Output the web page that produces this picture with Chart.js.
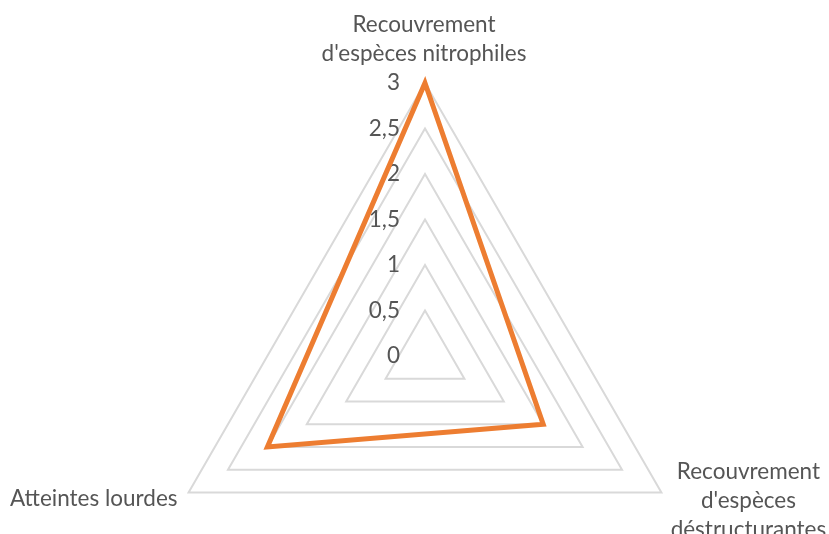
<!DOCTYPE html>
<html>
<head>
<meta charset="utf-8">
<script src="https://cdn.jsdelivr.net/npm/chart.js@4.4.0/dist/chart.umd.min.js"></script>
<style>
  html, body { margin: 0; padding: 0; background: #fff; overflow: hidden; }
  #radar { display: block; }
</style>
</head>
<body>
<canvas id="radar" width="829" height="640"></canvas>
<script>
// DATOS
const categories = [
  ["Recouvrement", "d'espèces nitrophiles"],
  ["Recouvrement", "d'espèces", "déstructurantes"],
  ["Atteintes lourdes"]
];
const valeurs = [3, 1.5, 2];
const tickValues = [0, 0.5, 1, 1.5, 2, 2.5, 3];
const tickLabels = ["0", "0,5", "1", "1,5", "2", "2,5", "3"];
// DATOS END

// placement of the axis titles around each corner (dx, dy of first baseline)
const placement = [
  { align: "center", dx: -1, dy: -51 },
  { align: "center", dx: 87, dy: -14 },
  { align: "right", dx: -11, dy: 13 }
];
const police = "22.5px Lato";
const gris = "#555555";
const interligne = 29;

// tick labels, drawn under the line like excel does
const graduations = {
  id: "graduations",
  beforeDatasetsDraw(chart) {
    const ctx = chart.ctx;
    const r = chart.scales.r;
    ctx.save();
    ctx.font = police;
    ctx.fillStyle = gris;
    ctx.textAlign = "right";
    ctx.textBaseline = "middle";
    tickValues.forEach((v, i) => {
      const y = r.yCenter - r.getDistanceFromCenterForValue(v);
      ctx.fillText(tickLabels[i], r.xCenter - 25, y);
    });
    ctx.restore();
  }
};

// axis titles
const titres = {
  id: "titres",
  afterDraw(chart) {
    const ctx = chart.ctx;
    const r = chart.scales.r;
    ctx.save();
    ctx.font = police;
    ctx.fillStyle = gris;
    ctx.textBaseline = "alphabetic";
    categories.forEach((lignes, i) => {
      const p = r.getPointPosition(i, r.drawingArea);
      const pl = placement[i];
      ctx.textAlign = pl.align;
      lignes.forEach((txt, k) => {
        ctx.fillText(txt, p.x + pl.dx, p.y + pl.dy + k * interligne);
      });
    });
    ctx.restore();
  }
};

function graficoRadar() {
  const data = {
    labels: categories,
    datasets: [
      {
        label: "Série 1",
        data: valeurs,
        fill: false,
        borderColor: "#ED7D31",
        backgroundColor: "rgba(0,0,0,0)",
        borderWidth: 5,
        pointRadius: 0,
        pointHoverRadius: 0
      }
    ]
  };
  const config = {
    type: "radar",
    data: data,
    options: {
      responsive: false,
      animation: false,
      layout: { padding: { top: 83, left: 21, right: 0, bottom: 11 } },
      plugins: {
        legend: { display: false },
        tooltip: { enabled: false }
      },
      scales: {
        r: {
          min: 0,
          max: 3,
          ticks: { stepSize: 0.5, display: false },
          grid: { color: "#d9d9d9", lineWidth: 2 },
          angleLines: { display: false },
          pointLabels: { display: false }
        }
      }
    },
    plugins: [graduations, titres]
  };
  new Chart(document.getElementById("radar"), config);
}

graficoRadar();
</script>
</body>
</html>
